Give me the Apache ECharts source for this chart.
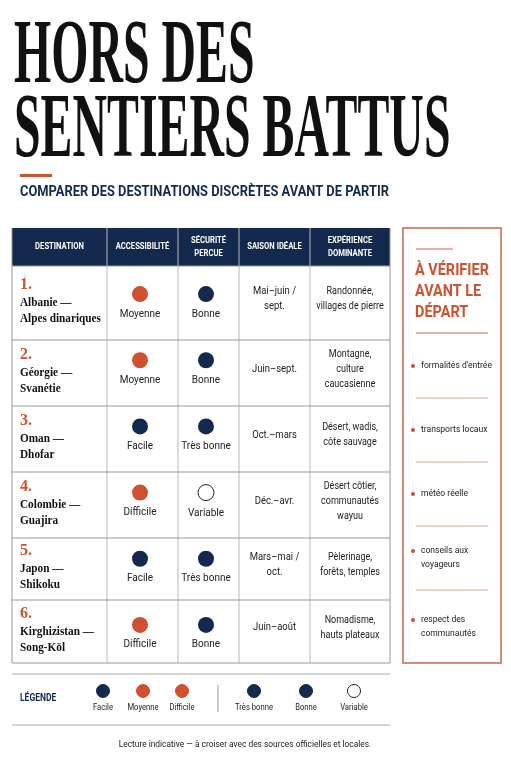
<!DOCTYPE html>
<html><head><meta charset="utf-8">
<script src="https://cdn.jsdelivr.net/npm/echarts@6/dist/echarts.min.js"></script>
<style>html,body{margin:0;padding:0;background:#fff}#c{width:511px;height:768px}</style>
</head><body><div id="c"></div>
<script>
const destinations = ['Albanie —\nAlpes dinariques','Géorgie —\nSvanétie','Oman —\nDhofar','Colombie —\nGuajira','Japon —\nShikoku','Kirghizistan —\nSong-Köl'];
const accessibility = ['Moyenne','Moyenne','Facile','Difficile','Facile','Difficile'];
const security = ['Bonne','Bonne','Très bonne','Variable','Très bonne','Bonne'];
const seasons = ['Mai–juin /\nsept.','Juin–sept.','Oct.–mars','Déc.–avr.','Mars–mai /\noct.','Juin–août'];
const experiences = ['Randonnée,\nvillages de pierre','Montagne,\nculture\ncaucasienne','Désert, wadis,\ncôte sauvage','Désert côtier,\ncommunautés\nwayuu','Pèlerinage,\nforêts, temples','Nomadisme,\nhauts plateaux'];
const columns = ['Accessibilité','Sécurité'];
const headers = ['DESTINATION','ACCESSIBILITÉ','SÉCURITÉ\nPERCUE','SAISON IDÉALE','EXPÉRIENCE\nDOMINANTE'];
const checklist = ["formalités d'entrée",'transports locaux','météo réelle','conseils aux\nvoyageurs','respect des\ncommunautés'];

const NAVY='#132a4e', ORANGE='#d0512f', RED='#c9674b', GRID='#b8b8b8';
const colorFor = v => (v==='Moyenne'||v==='Difficile') ? ORANGE : (v==='Variable' ? '#fff' : NAVY);

const colX=[12,107,178,239,310,390];
const rowY=[266,340,406,472,538,600,663];
const g=[];

// title
g.push({type:'text',x:14,y:12,scaleX:0.52,style:{text:'HORS DES',font:'bold 92px "Liberation Serif"',fill:'#111'}});
g.push({type:'text',x:14,y:86,scaleX:0.52,style:{text:'SENTIERS BATTUS',font:'bold 92px "Liberation Serif"',fill:'#111'}});
g.push({type:'rect',shape:{x:20,y:174,width:32,height:3},style:{fill:ORANGE}});
g.push({type:'text',x:20,y:184,scaleX:0.83,style:{text:'COMPARER DES DESTINATIONS DISCRÈTES AVANT DE PARTIR',font:'bold 15.5px Roboto',fill:NAVY}});

// table header
g.push({type:'rect',shape:{x:12,y:228,width:378,height:38},style:{fill:NAVY}});
headers.forEach((h,i)=>{g.push({type:'text',x:(colX[i]+colX[i+1])/2,y:247,scaleX:0.85,style:{text:h,font:'bold 9px Roboto',fill:'#fff',align:'center',verticalAlign:'middle',lineHeight:13}});});
for(let i=0;i<colX.length;i++) g.push({type:'line',shape:{x1:colX[i],y1:228,x2:colX[i],y2:663},style:{stroke:i===0||i===5?'#999':GRID,lineWidth:1}});
rowY.forEach(y=>g.push({type:'line',shape:{x1:12,y1:y,x2:390,y2:y},style:{stroke:'#999',lineWidth:1}}));
destinations.forEach((d,i)=>{
  const mid=(rowY[i]+rowY[i+1])/2;
  g.push({type:'text',x:20,y:mid-26,style:{text:(i+1)+'.',font:'bold 16px "Liberation Serif"',fill:ORANGE}});
  g.push({type:'text',x:20,y:mid-8,scaleX:0.9,style:{text:d,font:'bold 12.5px "Liberation Serif"',fill:'#111',lineHeight:16}});
  g.push({type:'text',x:274.5,y:mid-4,scaleX:0.9,style:{text:seasons[i],font:'10.5px Roboto',fill:'#222',align:'center',verticalAlign:'middle',lineHeight:15}});
  g.push({type:'text',x:350,y:mid-4,scaleX:0.9,style:{text:experiences[i],font:'10px Roboto',fill:'#222',align:'center',verticalAlign:'middle',lineHeight:15}});
});
// right panel
g.push({type:'rect',shape:{x:403,y:228,width:98,height:435},style:{fill:'none',stroke:RED,lineWidth:1.5}});
g.push({type:'line',shape:{x1:416,y1:249,x2:453,y2:249},style:{stroke:RED,lineWidth:1}});
g.push({type:'text',x:415,y:260,scaleX:0.85,style:{text:'À VÉRIFIER\nAVANT LE\nDÉPART',font:'bold 17px Roboto',fill:ORANGE,lineHeight:21}});
g.push({type:'line',shape:{x1:416,y1:333,x2:488,y2:333},style:{stroke:RED,lineWidth:1}});
const cy=[366,430,494,558,627];
checklist.forEach((c,i)=>{
  const lines=c.split('\n').length;
  g.push({type:'circle',shape:{cx:413,cy:cy[i]-(lines>1?7:0),r:2},style:{fill:ORANGE}});
  g.push({type:'text',x:421,y:cy[i],scaleX:0.9,style:{text:c,font:'9.5px Roboto',fill:'#222',verticalAlign:'middle',lineHeight:14}});
  if(i<4) g.push({type:'line',shape:{x1:416,y1:cy[i]+32,x2:488,y2:cy[i]+32},style:{stroke:'#d9a595',lineWidth:1}});
});
// legend
g.push({type:'line',shape:{x1:12,y1:674,x2:390,y2:674},style:{stroke:'#aaa'}});
g.push({type:'line',shape:{x1:12,y1:725,x2:390,y2:725},style:{stroke:'#aaa'}});
g.push({type:'text',x:20,y:698,scaleX:0.85,style:{text:'LÉGENDE',font:'bold 10px Roboto',fill:NAVY,verticalAlign:'middle'}});
const leg=[['Facile',103,NAVY],['Moyenne',143,ORANGE],['Difficile',182,ORANGE],['Très bonne',254,NAVY],['Bonne',306,NAVY],['Variable',354,'#fff']];
leg.forEach(l=>{
  g.push({type:'circle',shape:{cx:l[1],cy:691,r:6.5},style:{fill:l[2],stroke:l[2]==='#fff'?'#222':l[2],lineWidth:1}});
  g.push({type:'text',x:l[1],y:708,scaleX:0.85,style:{text:l[0],font:'9px Roboto',fill:'#222',align:'center',verticalAlign:'middle'}});
});
g.push({type:'line',shape:{x1:218,y1:685,x2:218,y2:712},style:{stroke:'#999'}});
g.push({type:'text',x:245,y:745,scaleX:0.88,style:{text:'Lecture indicative — à croiser avec des sources officielles et locales.',font:'9.5px Roboto',fill:'#222',align:'center',verticalAlign:'middle'}});

const pts=[];
destinations.forEach((d,i)=>{
  pts.push({value:[columns[0],i],lab:accessibility[i],itemStyle:{color:colorFor(accessibility[i]),borderColor:'#222',borderWidth:accessibility[i]==='Variable'?1:0}});
  pts.push({value:[columns[1],i],lab:security[i],itemStyle:{color:colorFor(security[i]),borderColor:'#222',borderWidth:security[i]==='Variable'?1:0}});
});
const chart=echarts.init(document.getElementById('c'));
chart.setOption({
  animation:false,
  grid:{left:107,right:272,top:266,bottom:105},
  xAxis:{type:'category',data:columns,show:false},
  yAxis:{type:'category',data:destinations.map((d,i)=>i),inverse:true,show:false},
  series:[{type:'scatter',data:pts,symbolSize:16,symbolOffset:[0,-5],z:10,itemStyle:{opacity:1},
    label:{show:true,position:'bottom',distance:7,formatter:p=>p.data.lab,fontSize:10,fontFamily:'Roboto',color:'#222'}}],
  graphic:{elements:g}
});
</script></body></html>
